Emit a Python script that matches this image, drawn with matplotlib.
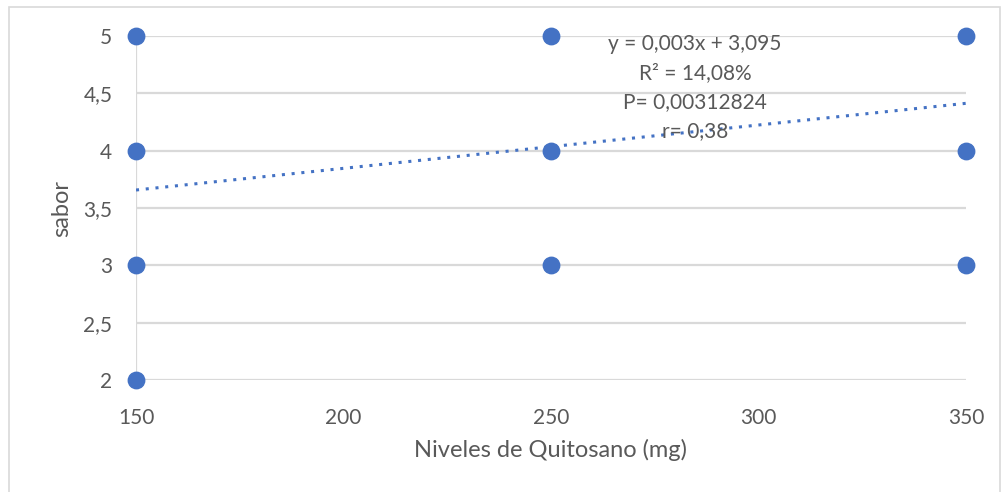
import numpy as np
import matplotlib.pyplot as plt
from matplotlib.patches import Rectangle
from matplotlib.ticker import FuncFormatter

# data
quitosano = [150, 150, 150, 150, 250, 250, 250, 350, 350, 350]
sabor = [5, 4, 3, 2, 5, 4, 3, 5, 4, 3]
# trendline as drawn (slope / intercept)
trend_slope = 0.00378
trend_intercept = 3.09
trend_text = ["y = 0,003x + 3,095", "R² = 14,08%", "P= 0,00312824", "r= 0,38"]

x_ticks = [150, 200, 250, 300, 350]
y_ticks = [2, 2.5, 3, 3.5, 4, 4.5, 5]

plt.rcParams['font.family'] = ['Lato', 'DejaVu Sans']
text_color = '#595959'
grid_color = '#D9D9D9'
blue = '#4472C4'

fig = plt.figure(figsize=(10.06, 4.92), dpi=100)
ax = fig.add_axes([0.1352, 0.2276, 0.8250, 0.6992])

# outer chart border
fig.patches.append(Rectangle((9 / 1006, -0.05), 991 / 1006, 1 - 7 / 492 + 0.05,
                             transform=fig.transFigure, fill=False,
                             edgecolor='#D9D9D9', linewidth=1.2))

for y in y_ticks:
    ax.axhline(y, color=grid_color, linewidth=1.6, zorder=1)
ax.axvline(150, color=grid_color, linewidth=1.6, zorder=1)

xs = np.array([150, 350])
ax.plot(xs, trend_slope * xs + trend_intercept, linestyle=(0, (1, 2.2)),
        color=blue, linewidth=2.2, zorder=2)

ax.scatter(quitosano, sabor, s=140, color=blue, zorder=3, clip_on=False)

ax.set_xlim(150, 350)
ax.set_ylim(2, 5)
ax.set_xticks(x_ticks)
ax.set_yticks(y_ticks)
ax.yaxis.set_major_formatter(FuncFormatter(lambda v, p: f"{v:g}".replace('.', ',')))
ax.tick_params(length=0, labelsize=15, labelcolor=text_color)
ax.tick_params(axis='x', pad=20)
ax.tick_params(axis='y', pad=17)
for s in ax.spines.values():
    s.set_visible(False)

ax.set_xlabel("Niveles de Quitosano (mg)", fontsize=17, color=text_color, labelpad=8)
ax.set_ylabel("sabor", fontsize=17, color=text_color, labelpad=8)

for i, line in enumerate(trend_text):
    fig.text(695 / 1006, 1 - (44 + 29 * i) / 492, line, ha='center', va='center',
             fontsize=15, color=text_color)

fig.savefig('out.png', dpi=100)
